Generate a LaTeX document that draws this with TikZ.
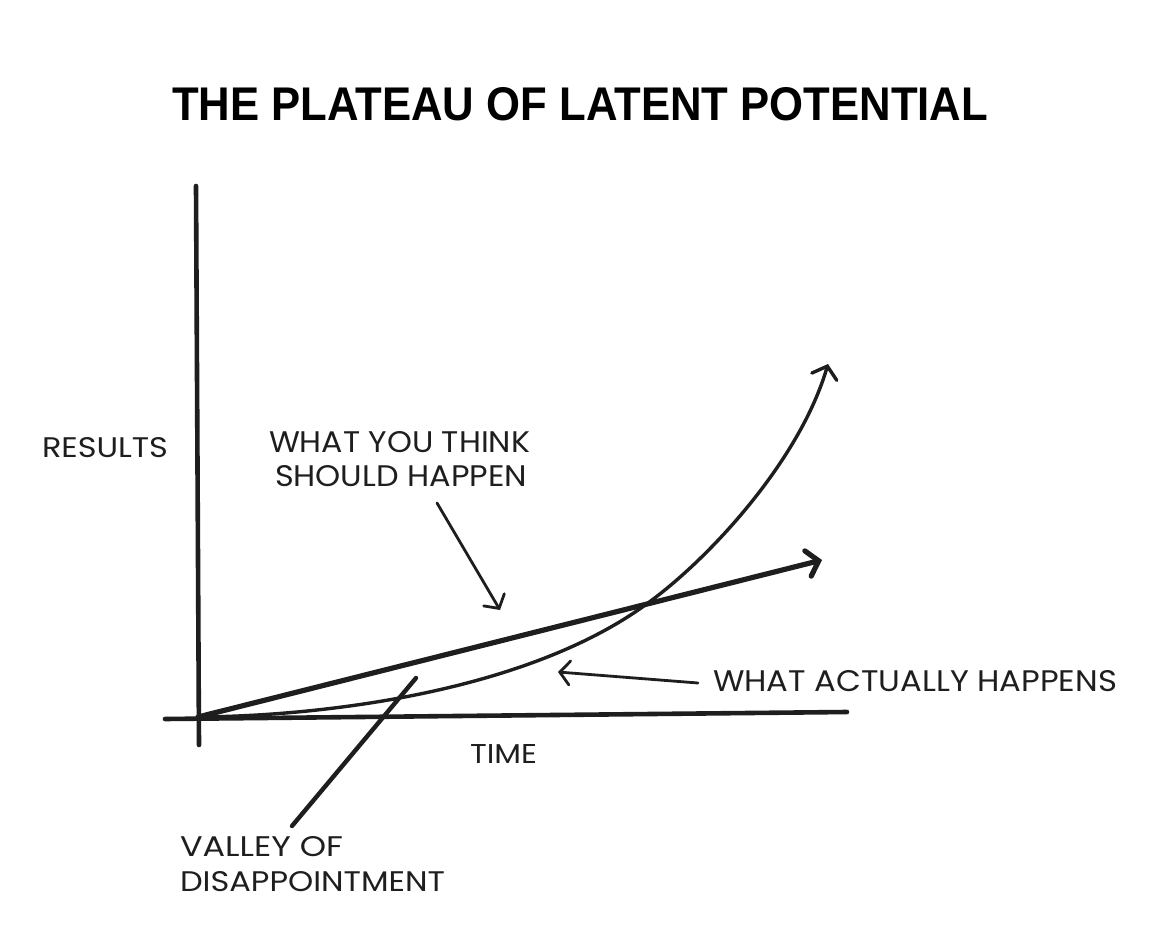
\documentclass[tikz,border=0pt]{standalone}
\usepackage{fontspec}
\usepackage{graphicx}
\usetikzlibrary{arrows.meta}
\newfontfamily\labelfont{Poppins}
\newfontfamily\titlefont{Liberation Sans}
\definecolor{ink}{HTML}{1E1E1E}
\newcommand{\fitline}[3]{\resizebox{#1pt}{#2pt}{#3}}
\begin{document}
\begin{tikzpicture}[x=1pt,y=-1pt,
  lbl/.style={inner sep=0pt, outer sep=0pt, anchor=south west, text=ink, font=\labelfont},
  axisline/.style={draw=ink, line width=4.6pt, line cap=round},
  bigarrow/.style={draw=ink, line cap=round, line join=round, -{Straight Barb[length=11pt,width=26pt,line cap=round]}},
  pointer/.style={draw=ink, line width=2.8pt, line cap=round, line join=round, -{Straight Barb[length=10pt,width=24pt,line cap=round]}}]
\useasboundingbox[fill=white] (0,0) rectangle (1168,936);

% title
\node[lbl, font=\titlefont\bfseries, text=black] (title) at (172,121)
  {\fitline{816}{33}{THE PLATEAU OF LATENT POTENTIAL}};

% key points
\coordinate (ytop) at (196,186);
\coordinate (ybot) at (199,745);
\coordinate (xl) at (165,719);
\coordinate (xr) at (847,712);
\coordinate (O) at (198,717);
\coordinate (thinkEnd) at (822,560);
\coordinate (X) at (648,603);
\coordinate (actEnd) at (828,364);

% axes
\draw[axisline] (ytop) -- (ybot);
\draw[axisline] (xl) -- (xr);

% what you think should happen
\draw[bigarrow, line width=5.2pt] (O) -- (thinkEnd);

% what actually happens
\draw[bigarrow, line width=3.4pt] (O) .. controls (330,716) and (530,690) .. (X)
  .. controls (710,558) and (800,460) .. (actEnd);

% labels
\node[lbl] (results) at (42,458) {\fitline{126}{20}{RESULTS}};
\node[lbl] (think1) at (269,453) {\fitline{261}{21}{WHAT YOU THINK}};
\node[lbl] (think2) at (275,487) {\fitline{252}{21}{SHOULD HAPPEN}};
\node[lbl] (actual) at (713,692) {\fitline{404}{21}{WHAT ACTUALLY HAPPENS}};
\node[lbl] (time) at (470,763) {\fitline{67}{19}{TIME}};
\node[lbl] (valley1) at (180,857) {\fitline{163}{20}{VALLEY OF}};
\node[lbl] (valley2) at (180,892) {\fitline{265}{20}{DISAPPOINTMENT}};

% pointers
\coordinate (thinkFrom) at (437,503);
\coordinate (thinkTo) at (500,610);
\coordinate (actFrom) at (698,683);
\coordinate (actTo) at (558,672);
\coordinate (valFrom) at (292,826);
\coordinate (valTo) at (416,678);
\draw[pointer] (thinkFrom) -- (thinkTo);
\draw[pointer] (actFrom) -- (actTo);
\draw[draw=ink, line width=4.4pt, line cap=round] (valFrom) -- (valTo);
\end{tikzpicture}
\end{document}
